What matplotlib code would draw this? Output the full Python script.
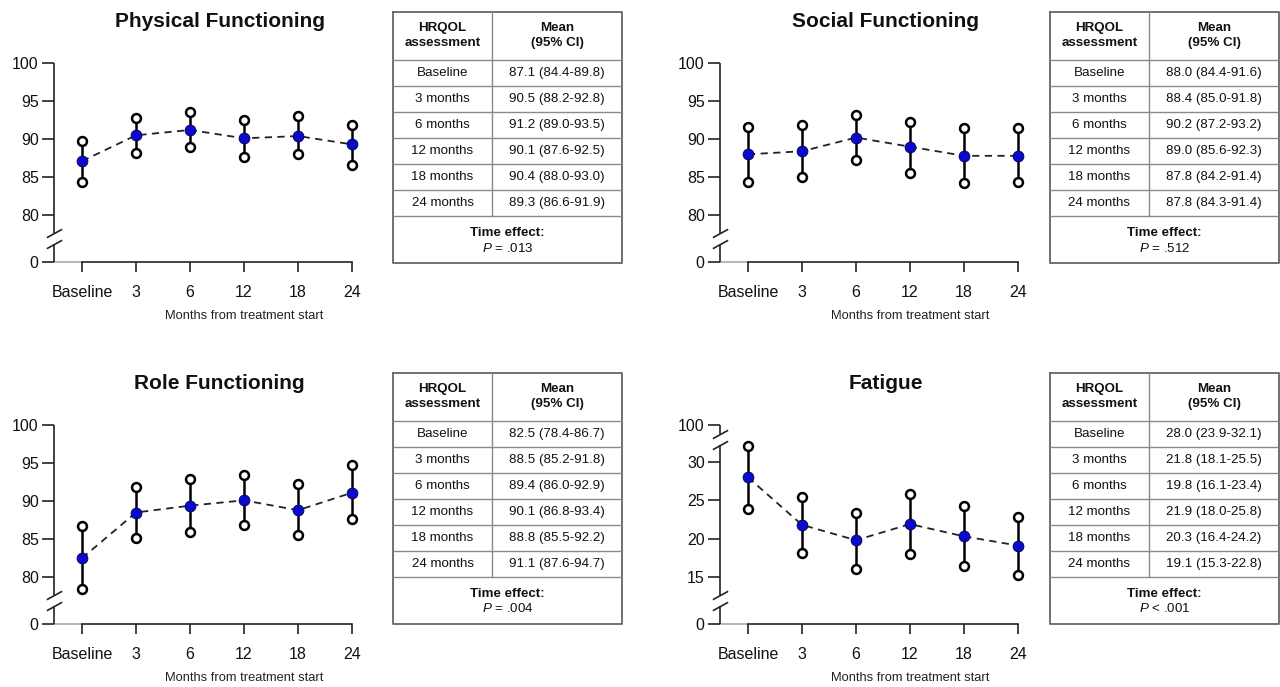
import matplotlib
matplotlib.use("Agg")
import matplotlib.pyplot as plt
import numpy as np
from matplotlib.path import Path

plt.rcParams['font.family'] = ['Liberation Sans', 'DejaVu Sans']
plt.rcParams['mathtext.fontset'] = 'custom'
plt.rcParams['mathtext.rm'] = 'Liberation Sans'
plt.rcParams['mathtext.it'] = 'Liberation Sans:italic'

# Data
time_labels = ["Baseline", "3", "6", "12", "18", "24"]
row_labels = ["Baseline", "3 months", "6 months", "12 months", "18 months", "24 months"]

physical_mean = [87.1, 90.5, 91.2, 90.1, 90.4, 89.3]
physical_lo = [84.4, 88.2, 89.0, 87.6, 88.0, 86.6]
physical_hi = [89.8, 92.8, 93.5, 92.5, 93.0, 91.9]

social_mean = [88.0, 88.4, 90.2, 89.0, 87.8, 87.8]
social_lo = [84.4, 85.0, 87.2, 85.6, 84.2, 84.3]
social_hi = [91.6, 91.8, 93.2, 92.3, 91.4, 91.4]

role_mean = [82.5, 88.5, 89.4, 90.1, 88.8, 91.1]
role_lo = [78.4, 85.2, 86.0, 86.8, 85.5, 87.6]
role_hi = [86.7, 91.8, 92.9, 93.4, 92.2, 94.7]

fatigue_mean = [28.0, 21.8, 19.8, 21.9, 20.3, 19.1]
fatigue_lo = [23.9, 18.1, 16.1, 18.0, 16.4, 15.3]
fatigue_hi = [32.1, 25.5, 23.4, 25.8, 24.2, 22.8]

functioning_ticks = [0, 80, 85, 90, 95, 100]
fatigue_ticks = [0, 15, 20, 25, 30, 100]

# Broken axis: data knots -> pixel-like units (199 units = axis height)
functioning_knots = ([-1000, 0, 77, 100, 1000], [-1000 * 24 / 77, 0, 24, 199, 199 + 900 * 175 / 23])
fatigue_knots = ([-1000, 0, 12, 33, 100, 1000], [-2000, 0, 24, 185, 199, 400])
functioning_breaks = [77]
fatigue_breaks = [12, 33]

W, H = 1280, 687
fig = plt.figure(figsize=(12.8, 6.87), dpi=100)

break_marker = Path([(-1, -0.55), (1, 0.55)], [Path.MOVETO, Path.LINETO])


def draw_panel(left_px, zero_px, title, mean, lo, hi, ticks, knots, breaks):
    step = 54.0
    x0 = -28 / step
    x1 = 5.2
    ax = fig.add_axes([left_px / W, (H - zero_px) / H, (x1 - x0) * step / W, 199 / H])
    kd, kp = knots
    fwd = lambda v: np.interp(v, kd, kp)
    inv = lambda v: np.interp(v, kp, kd)
    ax.set_yscale('function', functions=(fwd, inv))
    ax.set_ylim(0, 100)
    ax.set_xlim(x0, x1)

    x = np.arange(len(mean))
    ax.plot(x, mean, color='#222222', lw=1.3, dashes=(4, 3), zorder=1, clip_on=False)
    ax.vlines(x, lo, hi, color='black', lw=1.8, zorder=2)
    ax.plot(x, lo, 'o', ms=6.4, mfc='white', mec='black', mew=1.8, zorder=3, clip_on=False)
    ax.plot(x, hi, 'o', ms=6.4, mfc='white', mec='black', mew=1.8, zorder=3, clip_on=False)
    ax.plot(x, mean, 'o', ms=7.8, mfc='#0a0acc', mec='#000055', mew=0.6, zorder=4, clip_on=False)

    for s in ['top', 'right', 'left']:
        ax.spines[s].set_visible(False)
    ax.spines['bottom'].set_bounds(0, 5)
    ax.spines['bottom'].set_linewidth(1.2)
    ax.spines['bottom'].set_color('#222222')

    ax.set_xticks(x)
    ax.set_xticklabels(time_labels)
    ax.set_yticks(ticks)
    ax.set_yticklabels([str(t) for t in ticks])
    ax.minorticks_off()
    ax.tick_params(axis='both', direction='out', length=8.5, width=1.2, color='#222222',
                   labelsize=11.5, labelcolor='#111111')
    ax.tick_params(axis='y', pad=2.5)
    ax.tick_params(axis='x', length=7.5, pad=9)

    # gray baseline from y-axis to first tick
    ax.plot([x0, 0], [0, 0], color='#aaaaaa', lw=1.2, clip_on=False, zorder=0)

    # y-axis with break marks
    yt = ax.get_yaxis_transform()
    gap = 5.5
    seg = [0]
    for b in breaks:
        seg += [inv(fwd(b) - gap), inv(fwd(b) + gap)]
    seg += [100]
    for i in range(0, len(seg), 2):
        ax.plot([0, 0], [seg[i], seg[i + 1]], color='#222222', lw=1.2, transform=yt,
                clip_on=False, solid_capstyle='butt')
    for b in breaks:
        for yy in (inv(fwd(b) - gap), inv(fwd(b) + gap)):
            ax.plot([0], [yy], marker=break_marker, ms=11, mew=1.2, color='#222222',
                    transform=yt, clip_on=False)

    xt = ax.get_xaxis_transform()
    ax.text(2.55, 1.208, title, transform=xt, ha='center', va='center',
            fontsize=15, fontweight='bold', color='#111111')
    ax.text(3, -0.271, "Months from treatment start", transform=xt, ha='center',
            va='center', fontsize=9.3, color='#222222')
    return ax


def draw_table(left_px, top_px, mean, lo, hi, p_text):
    tw, th = 229, 251
    ax = fig.add_axes([left_px / W, (H - top_px - th) / H, tw / W, th / H])
    ax.set_xlim(0, tw)
    ax.set_ylim(th, 0)
    ax.axis('off')
    col = 99
    header = 48
    row_h = 26
    n = len(mean)
    inner = '#8a8a8a'
    ax.plot([0, tw, tw, 0, 0], [0, 0, th, th, 0], color='#666666', lw=1.3, clip_on=False)
    ax.plot([col, col], [0, header + n * row_h], color=inner, lw=1.0)
    for k in range(n + 1):
        yy = header + k * row_h
        ax.plot([0, tw], [yy, yy], color=inner, lw=1.0)
    fs = 9.6
    ax.text(col / 2, 16, "HRQOL", ha='center', va='center', fontsize=fs, fontweight='bold', color='#111111')
    ax.text(col / 2, 31, "assessment", ha='center', va='center', fontsize=fs, fontweight='bold', color='#111111')
    ax.text((col + tw) / 2, 16, "Mean", ha='center', va='center', fontsize=fs, fontweight='bold', color='#111111')
    ax.text((col + tw) / 2, 31, "(95% CI)", ha='center', va='center', fontsize=fs, fontweight='bold', color='#111111')
    for k in range(n):
        yc = header + (k + 0.5) * row_h
        ax.text(col / 2, yc, row_labels[k], ha='center', va='center', fontsize=fs, color='#111111')
        ax.text((col + tw) / 2, yc, f"{mean[k]:.1f} ({lo[k]:.1f}-{hi[k]:.1f})",
                ha='center', va='center', fontsize=fs, color='#111111')
    ax.text(tw / 2, 221, "Time effect:", ha='center', va='center', fontsize=fs, fontweight='bold', color='#111111')
    ax.text(tw / 2, 236, p_text, ha='center', va='center', fontsize=fs, color='#111111')


draw_panel(54, 262, "Physical Functioning", physical_mean, physical_lo, physical_hi,
           functioning_ticks, functioning_knots, functioning_breaks)
draw_table(393, 12, physical_mean, physical_lo, physical_hi, "$P$ = .013")

draw_panel(720, 262, "Social Functioning", social_mean, social_lo, social_hi,
           functioning_ticks, functioning_knots, functioning_breaks)
draw_table(1050, 12, social_mean, social_lo, social_hi, "$P$ = .512")

draw_panel(54, 624, "Role Functioning", role_mean, role_lo, role_hi,
           functioning_ticks, functioning_knots, functioning_breaks)
draw_table(393, 373, role_mean, role_lo, role_hi, "$P$ = .004")

draw_panel(720, 624, "Fatigue", fatigue_mean, fatigue_lo, fatigue_hi,
           fatigue_ticks, fatigue_knots, fatigue_breaks)
draw_table(1050, 373, fatigue_mean, fatigue_lo, fatigue_hi, "$P$ < .001")

fig.savefig("out.png", dpi=100)
